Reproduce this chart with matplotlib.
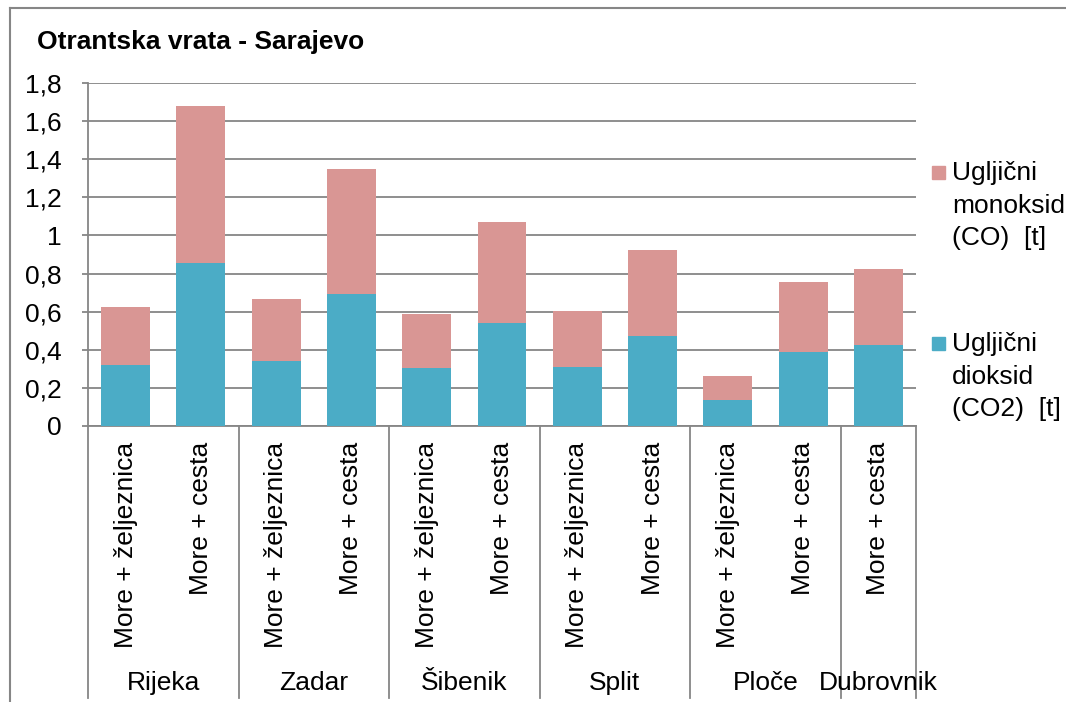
import matplotlib as mpl
mpl.use('Agg')
import matplotlib.pyplot as plt
from matplotlib.lines import Line2D
from matplotlib.patches import Rectangle
from matplotlib.ticker import FuncFormatter

# data
groups = ["Rijeka", "Zadar", "Šibenik", "Split", "Ploče", "Dubrovnik"]
group_modes = [
    ["More + željeznica", "More + cesta"],
    ["More + željeznica", "More + cesta"],
    ["More + željeznica", "More + cesta"],
    ["More + željeznica", "More + cesta"],
    ["More + željeznica", "More + cesta"],
    ["More + cesta"],
]
co2 = [0.321, 0.853, 0.342, 0.695, 0.305, 0.542, 0.311, 0.474, 0.137, 0.389, 0.426]
co = [0.305, 0.826, 0.326, 0.652, 0.284, 0.526, 0.294, 0.452, 0.126, 0.369, 0.400]
yticks = [0, 0.2, 0.4, 0.6, 0.8, 1.0, 1.2, 1.4, 1.6, 1.8]

label_co = "Ugljični\nmonoksid\n(CO)  [t]"
label_co2 = "Ugljični\ndioksid\n(CO2)  [t]"
title = "Otrantska vrata - Sarajevo"

c_co2 = "#4BACC6"
c_co = "#D99694"
c_line = "#868686"
fs = 19

plt.rcParams['font.family'] = ['Liberation Sans', 'DejaVu Sans']

W, H = 1066, 702
fig = plt.figure(figsize=(W / 100, H / 100), dpi=100)
ax = fig.add_axes([88 / W, 1 - 426 / H, (916 - 88) / W, (426 - 83) / H])

modes = [m for ms in group_modes for m in ms]
x = [i + 0.5 for i in range(len(modes))]
ax.bar(x, co2, width=0.65, color=c_co2, zorder=3)
ax.bar(x, co, width=0.65, bottom=co2, color=c_co, zorder=3)

ax.set_xlim(0, len(modes))
ax.set_ylim(0, 1.8)
ax.set_yticks(yticks)
ax.yaxis.set_major_formatter(FuncFormatter(
    lambda v, p: ("%g" % round(v, 1)).replace('.', ',')))
ax.set_xticks([])
ax.tick_params(axis='y', direction='out', length=4, width=1.3,
               color=c_line, pad=15, labelsize=fs)
ax.grid(axis='y', color=c_line, linewidth=1.3, zorder=0)
for s in ['top', 'right']:
    ax.spines[s].set_visible(False)
for s in ['left', 'bottom']:
    ax.spines[s].set_color(c_line)
    ax.spines[s].set_linewidth(1.3)

# hierarchical category axis
tr = ax.get_xaxis_transform()
for xi, m in zip(x, modes):
    ax.text(xi, -0.047, m, rotation=90, ha='center', va='top',
            fontsize=fs, transform=tr)
start = 0
for g, ms in zip(groups, group_modes):
    ax.plot([start, start], [0, -0.793], color=c_line, lw=1.3,
            transform=tr, clip_on=False)
    ax.text(start + len(ms) / 2, -0.749, g, ha='center', va='center',
            fontsize=fs, transform=tr)
    start += len(ms)
ax.plot([start, start], [0, -0.793], color=c_line, lw=1.3,
        transform=tr, clip_on=False)

# title and legend
fig.text(37 / W, 1 - 42 / H, title, fontsize=fs, fontweight='bold',
         va='center', ha='left')
for col, lab, yc in [(c_co, label_co, 172), (c_co2, label_co2, 343)]:
    fig.patches.append(Rectangle((932 / W, 1 - (yc + 7) / H), 13 / W, 13 / H,
                                 color=col, transform=fig.transFigure))
    fig.text(952 / W, 1 - (yc - 11) / H, lab, fontsize=fs, va='top',
             ha='left', linespacing=1.45)

# outer chart frame (left and top edges visible)
fig.add_artist(Line2D([10 / W, 10 / W], [0, 1 - 8 / H], color=c_line, lw=1.5))
fig.add_artist(Line2D([10 / W, 1], [1 - 8 / H, 1 - 8 / H], color=c_line, lw=1.5))

fig.savefig("out.png", dpi=100)
